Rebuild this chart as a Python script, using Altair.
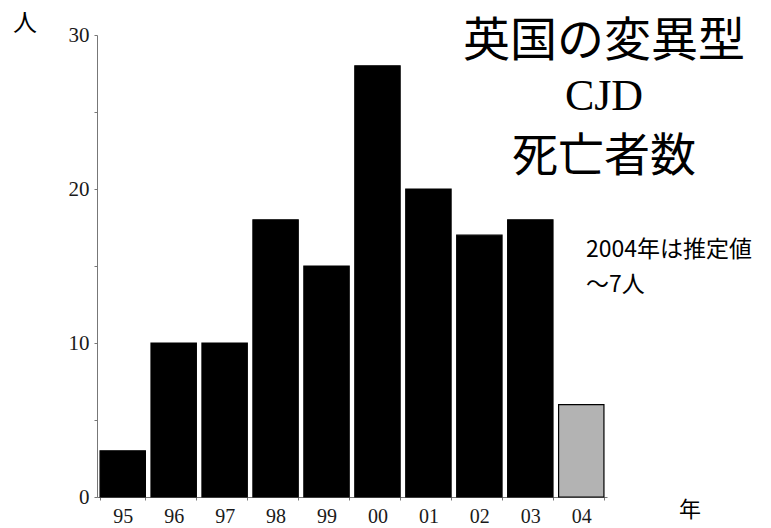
import altair as alt
import pandas as pd

# Annual deaths from variant CJD in the UK (2004 is an estimate)
years = ["95", "96", "97", "98", "99", "00", "01", "02", "03", "04"]
deaths = [3, 10, 10, 18, 15, 28, 20, 17, 18, 6]
kind = ["確定"] * 9 + ["推定"]

y_ticks = [0, 5, 10, 15, 20, 25, 30]

title_lines = ["英国の変異型", "CJD", "死亡者数"]
note_lines = ["2004年は推定値", "～7人"]
y_unit = "人"
x_unit = "年"

df = pd.DataFrame({"year": years, "deaths": deaths, "kind": kind})

W, H = 510, 462
SERIF = "Liberation Serif"
CJK = "Noto Sans CJK JP"

bars = alt.Chart(df).mark_bar(stroke="black", strokeWidth=1.2).encode(
    x=alt.X(
        "year:N",
        sort=years,
        scale=alt.Scale(paddingInner=0.11, paddingOuter=0.06),
        axis=alt.Axis(
            title=None,
            labelAngle=0,
            labelFont=SERIF,
            labelFontSize=20,
            labelColor="#1a1a1a",
            labelPadding=6,
            tickBand="extent",
            tickSize=3,
            tickColor="#777",
            domainColor="#777",
            grid=False,
        ),
    ),
    y=alt.Y(
        "deaths:Q",
        scale=alt.Scale(domain=[0, 30], nice=False),
        axis=alt.Axis(
            title=None,
            values=y_ticks,
            labelExpr="datum.value % 10 == 0 ? datum.label : ''",
            labelFont=SERIF,
            labelFontSize=21,
            labelColor="#1a1a1a",
            labelPadding=5,
            tickSize=3,
            tickColor="#777",
            domainColor="#777",
            grid=False,
        ),
    ),
    color=alt.Color(
        "kind:N",
        scale=alt.Scale(domain=["確定", "推定"], range=["#000000", "#b3b3b3"]),
        legend=None,
    ),
)


def label(text, x, y, size, font, align="center", baseline="middle", line_height=None):
    kw = dict(align=align, baseline=baseline, font=font, fontSize=size, color="black")
    if line_height is not None:
        kw["lineHeight"] = line_height
    return alt.Chart(pd.DataFrame({"t": [text]})).mark_text(**kw).encode(
        x=alt.value(x), y=alt.value(y), text="t:N"
    )


title_a = label(title_lines[0], 507, 7, 47, CJK)
title_b = label(title_lines[1], 507, 62, 44, SERIF)
title_c = label(title_lines[2], 507, 122, 46, CJK)
note = label(note_lines, 489, 215, 23, CJK, align="left", line_height=35)
unit_y = label(y_unit, -72, -11, 24, CJK)
unit_x = label(x_unit, 593, 475, 22, CJK)

chart = (
    alt.layer(bars, title_a, title_b, title_c, note, unit_y, unit_x)
    .properties(
        width=W,
        height=H,
        autosize=alt.AutoSizeParams(type="none"),
        padding={"left": 97, "top": 35, "right": 164, "bottom": 31},
        background="white",
    )
    .configure_view(stroke=None)
)

chart.save("out.html", embed_options={"renderer": "svg", "actions": False})
